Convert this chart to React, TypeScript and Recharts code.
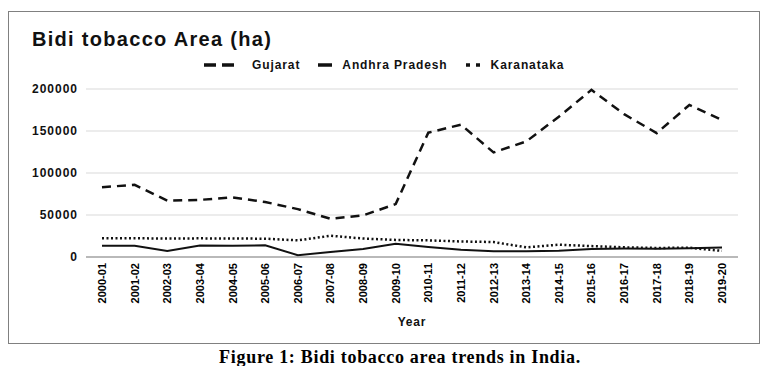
import { LineChart, Line, XAxis, YAxis, CartesianGrid } from 'recharts'

const years = [
  '2000-01', '2001-02', '2002-03', '2003-04', '2004-05', '2005-06', '2006-07',
  '2007-08', '2008-09', '2009-10', '2010-11', '2011-12', '2012-13', '2013-14',
  '2014-15', '2015-16', '2016-17', '2017-18', '2018-19', '2019-20',
]
const gujarat = [
  83000, 86000, 67000, 68000, 71000, 65500, 57000, 45500, 49500, 63000,
  148000, 157500, 124500, 137500, 167000, 199000, 170000, 147500, 181000, 163000,
]
const andhraPradesh = [
  13300, 13300, 7200, 13800, 13300, 14000, 2200, 6000, 9500, 15800,
  12000, 8500, 6800, 6800, 7500, 9500, 10000, 9800, 10500, 11200,
]
const karanataka = [
  22300, 22300, 22000, 22200, 22000, 21800, 19800, 25300, 22000, 20300,
  19800, 18500, 17800, 11500, 14600, 13000, 11500, 10800, 11000, 7300,
]
const yTicks = [0, 50000, 100000, 150000, 200000]

const chartData = years.map((year, i) => ({
  year,
  gujarat: gujarat[i],
  andhra: andhraPradesh[i],
  karanataka: karanataka[i],
}))

const font = '"Liberation Sans", Arial, sans-serif'
const ink = '#111'

function YearTick({ x, y, payload }: any) {
  return (
    <text
      x={x}
      y={y}
      transform={`rotate(-90 ${x} ${y})`}
      textAnchor="end"
      dominantBaseline="central"
      fontFamily={font}
      fontWeight="bold"
      fontSize={11}
      fill="#000"
    >
      {payload.value}
    </text>
  )
}

function LegendRow() {
  const text = { fontSize: 12, fontWeight: 700, letterSpacing: 0.9, color: ink }
  return (
    <div
      style={{
        position: 'absolute', top: 46, left: 195, height: 14,
        display: 'flex', alignItems: 'center', fontFamily: font, lineHeight: '14px',
      }}
    >
      <svg width={31} height={6}>
        <line x1={0} y1={3} x2={31} y2={3} stroke={ink} strokeWidth={3.5} strokeDasharray="12 6" />
      </svg>
      <span style={{ ...text, marginLeft: 17 }}>Gujarat</span>
      <svg width={14} height={6} style={{ marginLeft: 18 }}>
        <line x1={0} y1={3} x2={14} y2={3} stroke={ink} strokeWidth={3.5} />
      </svg>
      <span style={{ ...text, marginLeft: 10 }}>Andhra Pradesh</span>
      <svg width={14} height={6} style={{ marginLeft: 18 }}>
        <line x1={0} y1={3} x2={14} y2={3} stroke={ink} strokeWidth={3.5} strokeDasharray="4 6" />
      </svg>
      <span style={{ ...text, marginLeft: 11 }}>Karanataka</span>
    </div>
  )
}

export default function App() {
  return (
    <div style={{ paddingTop: 3 }}>
      <div
        style={{
          position: 'relative', width: 750, height: 331,
          border: '1px solid #808080', background: '#fff',
        }}
      >
        <div
          style={{
            position: 'absolute', left: 23, top: 17, fontFamily: font,
            fontSize: 20, lineHeight: '20px', fontWeight: 700, letterSpacing: 1.3, color: ink,
          }}
        >
          Bidi tobacco Area (ha)
        </div>
        <LegendRow />
        <LineChart
          width={750}
          height={331}
          data={chartData}
          margin={{ top: 77, right: 21, left: 0, bottom: 0 }}
        >
          <CartesianGrid vertical={false} stroke="#d9d9d9" />
          <XAxis
            dataKey="year"
            interval={0}
            height={86}
            padding={{ left: 16, right: 16 }}
            tickLine={false}
            tickMargin={0}
            axisLine={{ stroke: '#868686' }}
            tick={<YearTick />}
            label={{
              value: 'Year', position: 'insideBottom', offset: 17,
              style: { fontFamily: font, fontWeight: 700, fontSize: 12, fill: ink, letterSpacing: 0.8 },
            }}
          />
          <YAxis
            width={77}
            domain={[0, 200000]}
            ticks={yTicks}
            axisLine={false}
            tickLine={false}
            tick={{ fontFamily: font, fontWeight: 700, fontSize: 12, fill: ink, letterSpacing: 1 }}
          />
          <Line
            type="linear"
            dataKey="gujarat"
            stroke={ink}
            strokeWidth={2.5}
            strokeDasharray="9 6"
            dot={false}
            isAnimationActive={false}
          />
          <Line
            type="linear"
            dataKey="andhra"
            stroke={ink}
            strokeWidth={2}
            dot={false}
            isAnimationActive={false}
          />
          <Line
            type="linear"
            dataKey="karanataka"
            stroke={ink}
            strokeWidth={2.5}
            strokeDasharray="2 2.5"
            dot={false}
            isAnimationActive={false}
          />
        </LineChart>
      </div>
      <div
        style={{
          width: 784, marginTop: 4, textAlign: 'center',
          fontFamily: '"Liberation Serif", "Times New Roman", serif',
          fontSize: 18, lineHeight: '18px', fontWeight: 700, letterSpacing: 0.7, color: '#000',
        }}
      >
        Figure 1: Bidi tobacco area trends in India.
      </div>
    </div>
  )
}
